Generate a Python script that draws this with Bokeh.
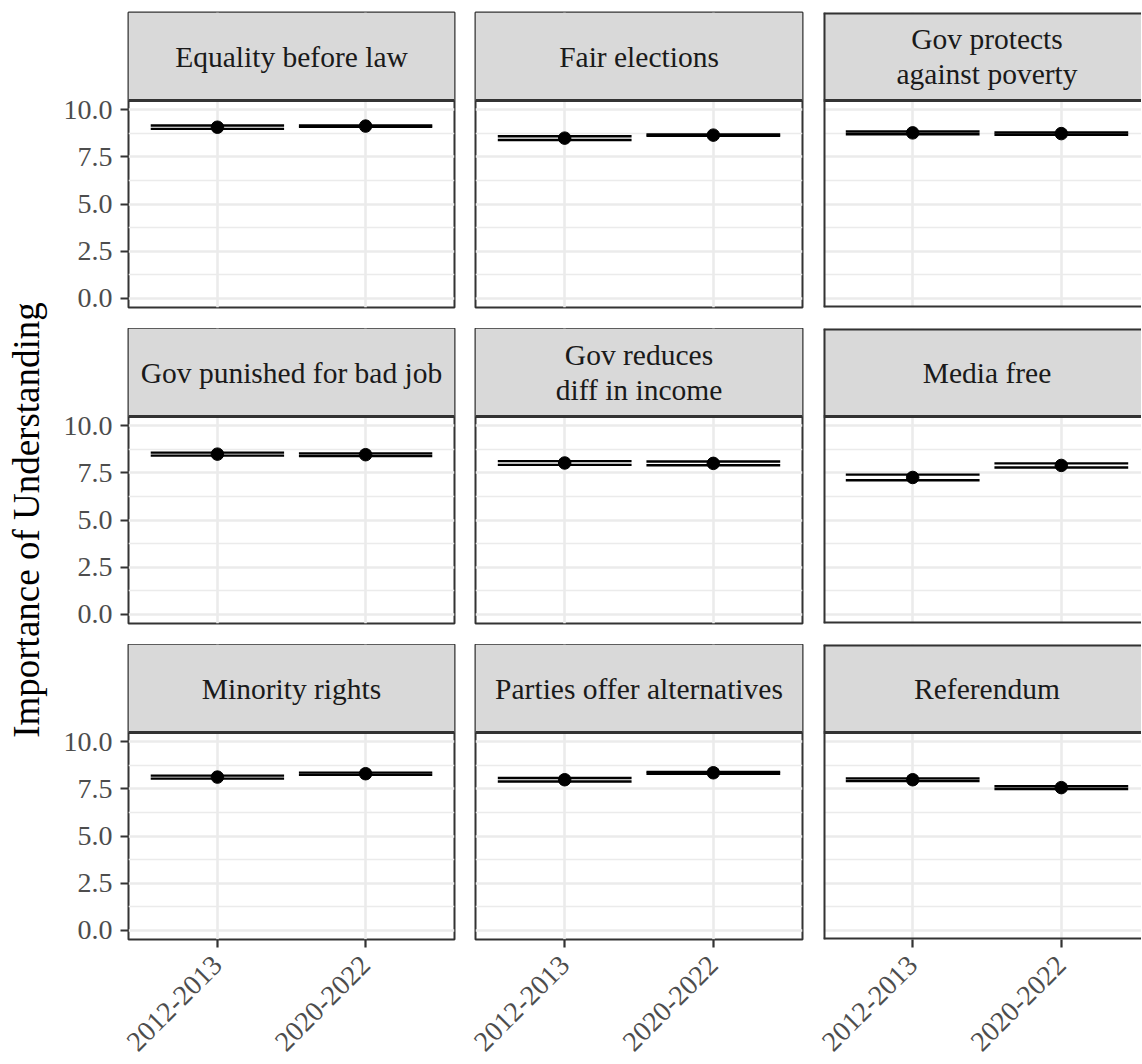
import math
from bokeh.plotting import figure
from bokeh.models import GridPlot, Range1d, FixedTicker, ColumnDataSource, Span
from bokeh.layouts import row
from bokeh.core.properties import value
from bokeh.embed import file_html
from bokeh.resources import INLINE

# ---------------- data ----------------
facets = ["Equality before law", "Fair elections", "Gov protects\nagainst poverty",
          "Gov punished for bad job", "Gov reduces\ndiff in income", "Media free",
          "Minority rights", "Parties offer alternatives", "Referendum"]
periods = ["2012-2013", "2020-2022"]
mean_2012 = [9.08, 8.50, 8.78, 8.50, 8.03, 7.26, 8.13, 7.99, 7.99]
mean_2020 = [9.14, 8.66, 8.74, 8.47, 8.01, 7.90, 8.31, 8.36, 7.57]
lo_2012 = [8.99, 8.40, 8.71, 8.42, 7.93, 7.11, 8.05, 7.90, 7.92]
hi_2012 = [9.17, 8.60, 8.85, 8.58, 8.13, 7.41, 8.21, 8.08, 8.06]
lo_2020 = [9.10, 8.62, 8.68, 8.40, 7.91, 7.79, 8.25, 8.31, 7.50]
hi_2020 = [9.18, 8.70, 8.80, 8.54, 8.11, 8.01, 8.37, 8.41, 7.64]
y_ticks = [0, 2.5, 5, 7.5, 10]
y_minor = [1.25, 3.75, 6.25, 8.75]
y_tick_labels = ["0.0", "2.5", "5.0", "7.5", "10.0"]
y_title = "Importance of Understanding"

# ---------------- style / layout ----------------
FONT = "Liberation Serif"
BORDER = "#333333"
GRID = "#EBEBEB"
YLAB_W = 60
col_left = [67, 11, 11]
col_frame = [327, 327, 318]
col_right = [10, 10, 0]
row_top = [12, 0, 0]
STRIP_H = 88
PANEL_H = 207
row_bottom = [21, 21, 124]
BAR_HALF = 0.45
xs = list(range(1, len(periods) + 1))
x_pad = 0.6
y_lo, y_hi = -0.5, 10.5
units_per_px = (y_hi - y_lo) / PANEL_H
strip_top_val = y_hi + STRIP_H * units_per_px

children = []
for i, name in enumerate(facets):
    r, c = divmod(i, 3)
    L, F, R = col_left[c], col_frame[c], col_right[c]
    x_start = xs[0] - x_pad
    x_full_end = xs[-1] + x_pad
    x_end = x_start + (x_full_end - x_start) * F / 327.0
    x_mid = (x_start + x_full_end) / 2

    p = figure(width=L + F + R, height=row_top[r] + STRIP_H + PANEL_H + row_bottom[r],
               x_range=Range1d(x_start, x_end), y_range=Range1d(y_lo, strip_top_val),
               output_backend="svg", toolbar_location=None,
               min_border_left=L, min_border_right=R,
               min_border_top=row_top[r], min_border_bottom=row_bottom[r])
    p.background_fill_color = "white"
    p.border_fill_color = "white"

    xt = FixedTicker(ticks=xs)
    yt = FixedTicker(ticks=y_ticks, minor_ticks=y_minor)
    p.xaxis.ticker = xt
    p.yaxis.ticker = yt
    p.xgrid.ticker = xt
    p.ygrid.ticker = yt
    p.xgrid.grid_line_color = GRID
    p.xgrid.grid_line_width = 2.6
    p.ygrid.grid_line_color = GRID
    p.ygrid.grid_line_width = 2.6
    p.ygrid.minor_grid_line_color = GRID
    p.ygrid.minor_grid_line_width = 1.3

    for ax in (p.xaxis[0], p.yaxis[0]):
        ax.axis_line_color = None
        ax.major_tick_line_color = BORDER
        ax.major_tick_line_width = 2.2
        ax.major_tick_in = 0
        ax.major_tick_out = 8
        ax.minor_tick_line_color = None
        ax.major_label_text_font = FONT
        ax.major_label_text_font_size = "28px"
        ax.major_label_text_color = "#4D4D4D"
    p.yaxis.major_label_standoff = 8
    p.xaxis.major_label_standoff = 13

    p.xaxis.major_label_overrides = {x: lab for x, lab in zip(xs, periods)}
    p.xaxis.major_label_orientation = math.pi / 4
    p.yaxis.major_label_overrides = {t: lab for t, lab in zip(y_ticks, y_tick_labels)}
    if r != 2:
        p.xaxis.visible = False
    if c != 0:
        p.yaxis.visible = False

    # strip (facet label box) on top of the panel
    p.quad(left=[x_start], right=[x_end], bottom=[y_hi], top=[strip_top_val],
           fill_color="#D9D9D9", line_color=None)
    p.text(x=[x_mid], y=[(y_hi + strip_top_val) / 2], text=[name],
           text_align="center", text_baseline="middle", text_font=value(FONT),
           text_font_size="29.5px", text_color="#1A1A1A", text_line_height=1.1)

    # borders
    p.add_layout(Span(location=y_hi, dimension="width", line_color=BORDER, line_width=3))
    if c == 2:
        p.outline_line_color = None
        p.add_layout(Span(location=x_start, dimension="height",
                          line_color=BORDER, line_width=4))
        p.add_layout(Span(location=y_lo, dimension="width",
                          line_color=BORDER, line_width=4))
        p.add_layout(Span(location=strip_top_val, dimension="width",
                          line_color=BORDER, line_width=4))
    else:
        p.outline_line_color = BORDER
        p.outline_line_width = 2

    means = [mean_2012[i], mean_2020[i]]
    los = [lo_2012[i], lo_2020[i]]
    his = [hi_2012[i], hi_2020[i]]
    src = ColumnDataSource(dict(
        x=xs, x0=[x - BAR_HALF for x in xs], x1=[x + BAR_HALF for x in xs],
        mean=means, lo=los, hi=his))
    p.segment(x0="x0", y0="lo", x1="x1", y1="lo", source=src,
              line_color="black", line_width=2.4)
    p.segment(x0="x0", y0="hi", x1="x1", y1="hi", source=src,
              line_color="black", line_width=2.4)
    p.segment(x0="x", y0="lo", x1="x", y1="hi", source=src,
              line_color="black", line_width=2.4)
    p.scatter(x="x", y="mean", source=src, size=12.5, color="black")
    children.append((p, r, c))

grid = GridPlot(children=children, toolbar_location=None, spacing=0)

# y-axis title (axis label centred on the panels' vertical extent)
total_h = sum(row_top) + 3 * (STRIP_H + PANEL_H) + sum(row_bottom)
yl = figure(width=YLAB_W, height=total_h, x_range=Range1d(0, 1),
            y_range=Range1d(0, 1), output_backend="svg", toolbar_location=None,
            min_border_left=46, min_border_right=0,
            min_border_top=row_top[0] + STRIP_H, min_border_bottom=row_bottom[2])
yl.xaxis.visible = False
yl.grid.visible = False
yl.outline_line_color = None
yl.yaxis.ticker = FixedTicker(ticks=[])
yl.yaxis.axis_line_color = None
yl.yaxis.major_tick_line_color = None
yl.yaxis.minor_tick_line_color = None
yl.yaxis.major_tick_out = 0
yl.yaxis.axis_label = y_title
yl.yaxis.axis_label_standoff = 0
yl.yaxis.axis_label_text_font = FONT
yl.yaxis.axis_label_text_font_size = "37px"
yl.yaxis.axis_label_text_font_style = "normal"
yl.yaxis.axis_label_text_color = "black"

layout = row(yl, grid, spacing=0)
open("out.html", "w").write(file_html(layout, INLINE))
